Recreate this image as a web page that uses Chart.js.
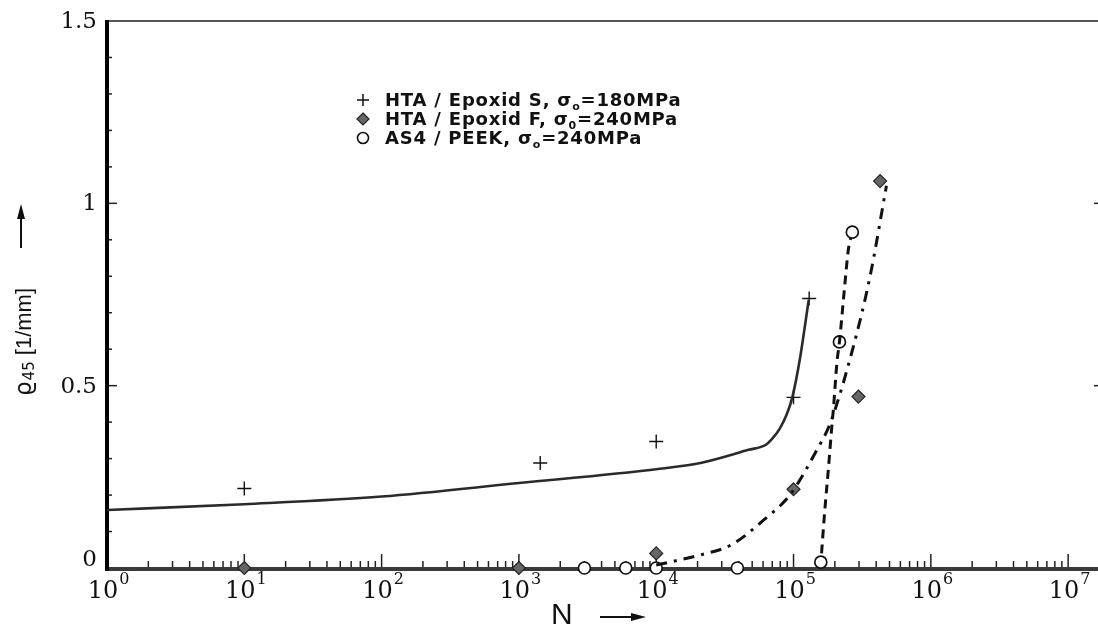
<!DOCTYPE html>
<html>
<head>
<meta charset="utf-8">
<script src="https://cdn.jsdelivr.net/npm/chart.js@4.4.1/dist/chart.umd.min.js"></script>
<style>
html,body{margin:0;padding:0;background:#fff;overflow:hidden;}
#wrap{width:1098px;height:628px;}
canvas{display:block;}
</style>
</head>
<body>
<div id="wrap"><canvas id="c" width="1098" height="628"></canvas></div>
<script>
// ---- data ----
const nEpoxidS   = [10, 1430, 1.0e4, 1.0e5, 1.3e5];
const rhoEpoxidS = [0.218, 0.288, 0.347, 0.468, 0.739];
const nEpoxidF   = [10, 1000, 1.0e4, 1.0e5, 2.97e5, 4.27e5];
const rhoEpoxidF = [0, 0, 0.04, 0.216, 0.47, 1.061];
const nPeek      = [3.0e3, 6.0e3, 1.0e4, 3.9e4, 1.58e5, 2.16e5, 2.68e5];
const rhoPeek    = [0, 0, 0, 0, 0.016, 0.62, 0.921];

// fitted curves
const nFitS   = [1, 10, 100, 1000, 1e4, 2.1e4, 4.7e4, 6.3e4, 6.9e4, 7.9e4, 8.9e4, 9.8e4, 1.11e5, 1.29e5];
const rhoFitS = [0.159, 0.175, 0.196, 0.233, 0.271, 0.288, 0.324, 0.338, 0.352, 0.381, 0.42, 0.468, 0.571, 0.735];
const nFitF   = [1.0e4, 2.1e4, 3.5e4, 6.3e4, 9.4e4, 1.48e5, 1.85e5, 2.73e5, 3.61e5, 4.75e5];
const rhoFitF = [0.008, 0.036, 0.063, 0.137, 0.2, 0.324, 0.397, 0.608, 0.80, 1.048];
const nFitP   = [1.6e5, 1.69e5, 1.80e5, 1.90e5, 1.95e5, 2.07e5, 2.16e5, 2.37e5, 2.51e5, 2.61e5];
const rhoFitP = [0.04, 0.159, 0.278, 0.388, 0.434, 0.563, 0.62, 0.782, 0.874, 0.906];

// axes / labels
const xTickPowers = [0, 1, 2, 3, 4, 5, 6, 7];
const yTickValues = [0, 0.5, 1, 1.5];
const yTickLabels = ['0', '0.5', '1', '1.5'];
const seriesNames = ['HTA / Epoxid S', 'HTA / Epoxid F', 'AS4 / PEEK'];
const sigmaSubs   = ['o', '0', 'o'];
const stresses    = ['180MPa', '240MPa', '240MPa'];
const xTitle = 'N';
const yTitleMain = 'ϱ', yTitleSub = '45', yTitleUnit = ' [1/mm]';

const toPts = (xs, ys) => xs.map((x, i) => ({x: x, y: ys[i]}));

const frameAndTicks = {
  id: 'frameAndTicks',
  beforeDatasetsDraw(chart) {
    const ctx = chart.ctx, xs = chart.scales.x, ys = chart.scales.y;
    const L = xs.left, R = xs.right, T = ys.top, B = ys.getPixelForValue(0);
    ctx.save();
    ctx.strokeStyle = '#555'; ctx.lineWidth = 2;
    ctx.beginPath(); ctx.moveTo(L, T); ctx.lineTo(R, T); ctx.stroke();
    ctx.strokeStyle = '#222'; ctx.lineWidth = 1.5;
    xTickPowers.forEach(p => {
      for (let m = 1; m <= 9; m++) {
        const v = m * Math.pow(10, p);
        if (v > xs.max) break;
        const px = xs.getPixelForValue(v);
        const len = m === 1 ? 14 : 7;
        ctx.beginPath(); ctx.moveTo(px, B); ctx.lineTo(px, B - len); ctx.stroke();
      }
    });
    for (let k = 1; k <= 14; k++) {
      const v = k / 10;
      const py = ys.getPixelForValue(v);
      const major = (k % 5 === 0);
      ctx.beginPath(); ctx.moveTo(L, py); ctx.lineTo(L + (major ? 10 : 5), py); ctx.stroke();
      if (major) { ctx.beginPath(); ctx.moveTo(R, py); ctx.lineTo(R - 4, py); ctx.stroke(); }
    }
    ctx.strokeStyle = '#3a3a3a'; ctx.lineWidth = 4;
    ctx.beginPath(); ctx.moveTo(L, B + 1); ctx.lineTo(R, B + 1); ctx.stroke();
    ctx.strokeStyle = '#000'; ctx.lineWidth = 4;
    ctx.beginPath(); ctx.moveTo(L, T - 1); ctx.lineTo(L, B + 3); ctx.stroke();
    ctx.restore();
  },
  afterDraw(chart) {
    const ctx = chart.ctx, xs = chart.scales.x, ys = chart.scales.y;
    ctx.save();
    ctx.fillStyle = '#111';
    xTickPowers.forEach(p => {
      const px = xs.getPixelForValue(Math.pow(10, p));
      ctx.font = '24px "DejaVu Serif"';
      const w1 = ctx.measureText('10').width;
      ctx.font = '16px "DejaVu Serif"';
      const w2 = ctx.measureText(String(p)).width;
      const x0 = px - (w1 + w2) / 2 + 1;
      ctx.textBaseline = 'alphabetic'; ctx.textAlign = 'left';
      ctx.font = '24px "DejaVu Serif"';
      ctx.fillText('10', x0, 598);
      ctx.font = '16px "DejaVu Serif"';
      ctx.fillText(String(p), x0 + w1 + 1, 584);
    });
    ctx.font = '23px "DejaVu Serif"';
    ctx.textAlign = 'right'; ctx.textBaseline = 'middle';
    yTickValues.forEach((v, i) => {
      let py = ys.getPixelForValue(v);
      if (v === 0) py -= 9;
      ctx.fillText(yTickLabels[i], 97, py + 1);
    });
    ctx.textAlign = 'left'; ctx.textBaseline = 'alphabetic';
    ctx.font = '30px "Liberation Sans"';
    ctx.fillText(xTitle, 551, 624);
    drawArrow(ctx, 600, 617, 646, 617);
    ctx.save();
    ctx.translate(31, 396);
    ctx.rotate(-Math.PI / 2);
    ctx.font = '23px "DejaVu Sans"';
    ctx.fillText(yTitleMain, 0, 0);
    let w = ctx.measureText(yTitleMain).width;
    ctx.font = '15px "DejaVu Sans"';
    ctx.fillText(yTitleSub, w + 1, 3);
    w += ctx.measureText(yTitleSub).width + 1;
    ctx.font = '22px "Liberation Sans"';
    ctx.fillText(yTitleUnit, w, 0);
    ctx.restore();
    drawArrow(ctx, 21, 248, 21, 204);
    // legend
    const lx = 363, ly = [100, 119, 138];
    ly.forEach((y, i) => {
      ctx.save();
      if (i === 0) {
        ctx.strokeStyle = '#111'; ctx.lineWidth = 1.5;
        ctx.beginPath(); ctx.moveTo(lx - 6, y); ctx.lineTo(lx + 6, y); ctx.moveTo(lx, y - 6); ctx.lineTo(lx, y + 6); ctx.stroke();
      } else if (i === 1) {
        ctx.fillStyle = '#666'; ctx.strokeStyle = '#222'; ctx.lineWidth = 1.2;
        ctx.beginPath(); ctx.moveTo(lx, y - 6); ctx.lineTo(lx + 6, y); ctx.lineTo(lx, y + 6); ctx.lineTo(lx - 6, y); ctx.closePath(); ctx.fill(); ctx.stroke();
      } else {
        ctx.strokeStyle = '#111'; ctx.lineWidth = 1.6;
        ctx.beginPath(); ctx.arc(lx, y, 5.5, 0, Math.PI * 2); ctx.stroke();
      }
      ctx.restore();
      ctx.fillStyle = '#111';
      ctx.letterSpacing = '0.8px';
      ctx.font = 'bold 18px "DejaVu Sans"';
      ctx.textAlign = 'left'; ctx.textBaseline = 'alphabetic';
      let x = 385;
      const t1 = seriesNames[i] + ', σ';
      ctx.fillText(t1, x, y + 6);
      x += ctx.measureText(t1).width;
      ctx.font = 'bold 11px "DejaVu Sans"';
      ctx.fillText(sigmaSubs[i], x, y + 10);
      x += ctx.measureText(sigmaSubs[i]).width;
      ctx.font = 'bold 18px "DejaVu Sans"';
      ctx.fillText('=' + stresses[i], x, y + 6);
      ctx.letterSpacing = '0px';
    });
    ctx.restore();
  }
};

function drawArrow(ctx, x1, y1, x2, y2) {
  const a = Math.atan2(y2 - y1, x2 - x1);
  const hl = 15, hw = 4;
  ctx.save();
  ctx.strokeStyle = '#111'; ctx.fillStyle = '#111'; ctx.lineWidth = 2;
  ctx.beginPath(); ctx.moveTo(x1, y1);
  ctx.lineTo(x2 - hl * Math.cos(a), y2 - hl * Math.sin(a)); ctx.stroke();
  ctx.beginPath();
  ctx.moveTo(x2, y2);
  ctx.lineTo(x2 - hl * Math.cos(a) - hw * Math.sin(a), y2 - hl * Math.sin(a) + hw * Math.cos(a));
  ctx.lineTo(x2 - hl * Math.cos(a) + hw * Math.sin(a), y2 - hl * Math.sin(a) - hw * Math.cos(a));
  ctx.closePath(); ctx.fill();
  ctx.restore();
}

new Chart(document.getElementById('c'), {
  type: 'scatter',
  data: {
    datasets: [
      { label: 'fit S', data: toPts(nFitS, rhoFitS), showLine: true, pointRadius: 0,
        borderColor: '#2a2a2a', borderWidth: 2.6, cubicInterpolationMode: 'monotone', clip: false },
      { label: 'fit F', data: toPts(nFitF, rhoFitF), showLine: true, pointRadius: 0,
        borderColor: '#111', borderWidth: 3, borderDash: [11, 7, 3, 7], cubicInterpolationMode: 'monotone', clip: false },
      { label: 'fit PEEK', data: toPts(nFitP, rhoFitP), showLine: true, pointRadius: 0,
        borderColor: '#111', borderWidth: 3, borderDash: [9, 6], cubicInterpolationMode: 'monotone', clip: false },
      { label: 'HTA / Epoxid S, σₒ=180MPa', data: toPts(nEpoxidS, rhoEpoxidS), pointStyle: 'cross',
        pointRadius: 7, borderColor: '#111', borderWidth: 1.4, clip: false },
      { label: 'HTA / Epoxid F, σ₀=240MPa', data: toPts(nEpoxidF, rhoEpoxidF), pointStyle: 'rectRot',
        pointRadius: 6.5, backgroundColor: '#666', borderColor: '#222', borderWidth: 1.2, clip: false },
      { label: 'AS4 / PEEK, σₒ=240MPa', data: toPts(nPeek, rhoPeek), pointStyle: 'circle',
        pointRadius: 6, backgroundColor: '#fff', borderColor: '#111', borderWidth: 1.7, clip: false }
    ]
  },
  options: {
    responsive: false,
    animation: false,
    devicePixelRatio: 1,
    layout: { autoPadding: false, padding: { left: 107, right: 0, top: 21, bottom: 60 } },
    plugins: { legend: { display: false }, tooltip: { enabled: false } },
    scales: {
      x: { type: 'logarithmic', min: 1, max: 1.65e7, display: false },
      y: { type: 'linear', min: 0, max: 1.5, display: false }
    }
  },
  plugins: [frameAndTicks]
});
</script>
</body>
</html>
